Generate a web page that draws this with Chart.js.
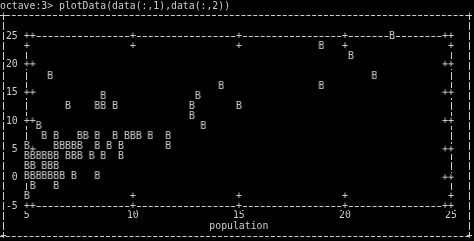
<!DOCTYPE html>
<html>
<head>
<meta charset="utf-8">
<script src="https://cdn.jsdelivr.net/npm/chart.js@4"></script>
<style>
  html, body { margin: 0; padding: 0; background: #000; }
  #wrap { width: 474px; height: 241px; position: relative; }
</style>
</head>
<body>
<div id="wrap"><canvas id="c" width="474" height="241"></canvas></div>
<script>
// ---- data ----
const xTicks = [5, 10, 15, 20, 25];
const yTicks = [-5, 0, 5, 10, 15, 20, 25];
const xLabel = 'population';
const promptLine = 'octave:3> plotData(data(:,1),data(:,2))';

const population = [
  22.22,
  18.89,
  20.28,
  6.11, 21.39,
  14.17, 18.89,
  8.61, 13.06,
  6.94, 8.33, 8.61, 9.17, 12.78, 15.0,
  12.78,
  5.56, 13.33,
  5.83, 6.39, 7.5, 7.78, 8.33, 9.17, 9.72, 10.0, 10.28, 10.83, 11.67,
  5.0, 6.39, 6.67, 6.94, 7.22, 7.5, 8.33, 8.89, 9.44, 11.67,
  5.0, 5.28, 5.56, 5.83, 6.11, 6.39, 6.94, 7.22, 7.5, 8.06, 8.61, 9.44,
  5.0, 5.28, 5.83, 6.11, 6.39,
  5.0, 5.28, 5.56, 5.83, 6.11, 6.39, 6.67, 7.22, 8.33,
  5.28, 6.39,
  5.0
];
const profit = [
  25.0,
  23.24,
  21.47,
  17.94, 17.94,
  16.18, 16.18,
  14.41, 14.41,
  12.65, 12.65, 12.65, 12.65, 12.65, 12.65,
  10.88,
  9.12, 9.12,
  7.35, 7.35, 7.35, 7.35, 7.35, 7.35, 7.35, 7.35, 7.35, 7.35, 7.35,
  5.59, 5.59, 5.59, 5.59, 5.59, 5.59, 5.59, 5.59, 5.59, 5.59,
  3.82, 3.82, 3.82, 3.82, 3.82, 3.82, 3.82, 3.82, 3.82, 3.82, 3.82, 3.82,
  2.06, 2.06, 2.06, 2.06, 2.06,
  0.29, 0.29, 0.29, 0.29, 0.29, 0.29, 0.29, 0.29, 0.29,
  -1.47, -1.47,
  -3.24
];

// ---- styling ----
const FG = '#cdcdcd';
const FONT = '"DejaVu Sans Mono", monospace';
const FSIZE = 9.8;

function glyph(ch) {
  const cv = document.createElement('canvas');
  cv.width = 6; cv.height = 10;
  const g = cv.getContext('2d');
  g.fillStyle = '#000';
  g.fillRect(0, 0, 6, 10);
  g.fillStyle = FG;
  g.font = '10px ' + FONT;
  g.textAlign = 'center';
  g.textBaseline = 'middle';
  g.fillText(ch, 3, 5.5);
  return cv;
}

const xMin = xTicks[0], xMax = xTicks[xTicks.length - 1];
const yMin = yTicks[0], yMax = yTicks[yTicks.length - 1];
// one text cell expressed in data units
const colU = (xMax - xMin) / 72;
const rowU = (yMax - yMin) / 17;

// tick marks ("+" characters) placed at the tick values
const tickMarks = [];
xTicks.forEach(v => {
  tickMarks.push({x: v, y: yMax}, {x: v, y: yMax - rowU}, {x: v, y: yMin}, {x: v, y: yMin + rowU});
});
yTicks.forEach(v => {
  tickMarks.push({x: xMin, y: v}, {x: xMin + colU, y: v}, {x: xMax, y: v}, {x: xMax - colU, y: v});
});

const points = population.map((p, i) => ({x: p, y: profit[i]}));

const terminalFrame = {
  id: 'terminalFrame',
  beforeDraw(chart) {
    const ctx = chart.ctx;
    ctx.save();
    ctx.fillStyle = '#000';
    ctx.fillRect(0, 0, chart.width, chart.height);
    ctx.fillStyle = FG;
    ctx.font = FSIZE + 'px ' + FONT;
    ctx.textBaseline = 'alphabetic';
    ctx.textAlign = 'left';
    ctx.fillText(promptLine, 0, 9);
    // outer dumb-terminal frame
    ctx.strokeStyle = FG;
    ctx.lineWidth = 1;
    ctx.setLineDash([4, 1.89]);
    ctx.beginPath();
    ctx.moveTo(0, 15.5); ctx.lineTo(470, 15.5);
    ctx.moveTo(0, 236.5); ctx.lineTo(470, 236.5);
    ctx.stroke();
    ctx.setLineDash([8, 2]);
    ctx.lineDashOffset = 4;
    ctx.beginPath();
    ctx.moveTo(3.5, 16); ctx.lineTo(3.5, 236);
    ctx.moveTo(469.5, 16); ctx.lineTo(469.5, 236);
    ctx.stroke();
    ctx.setLineDash([]);
    ctx.textAlign = 'center';
    ctx.textBaseline = 'middle';
    ctx.fillText('+', 3.5, 16);
    ctx.fillText('+', 469.5, 16);
    ctx.fillText('+', 3.5, 236.5);
    ctx.fillText('+', 469.5, 236.5);
    ctx.restore();
  }
};

Chart.defaults.font.family = FONT;
Chart.defaults.font.size = FSIZE;
Chart.defaults.color = FG;

new Chart(document.getElementById('c'), {
  type: 'scatter',
  data: {
    datasets: [
      {
        label: 'data',
        data: points,
        pointStyle: glyph('B'),
        pointRadius: 3,
        pointHoverRadius: 3,
        showLine: false,
        clip: false,
        order: 0
      },
      {
        label: 'ticks',
        data: tickMarks,
        pointStyle: glyph('+'),
        pointRadius: 3,
        pointHoverRadius: 3,
        showLine: false,
        clip: false,
        order: 1
      }
    ]
  },
  options: {
    responsive: false,
    animation: false,
    events: [],
    layout: { padding: { top: 36, right: 23, left: 0, bottom: 0 } },
    plugins: { legend: { display: false }, tooltip: { enabled: false } },
    scales: {
      x: {
        type: 'linear',
        min: xMin, max: xMax,
        afterBuildTicks: s => { s.ticks = xTicks.map(v => ({value: v})); },
        afterFit: s => { s.height = 35; },
        ticks: { padding: 4, color: FG, maxRotation: 0, autoSkip: false },
        border: { display: false, dash: [8, 2], dashOffset: 4 },
        grid: {
          drawTicks: false,
          lineWidth: 1,
          color: c => (c.tick && (c.tick.value === xMin || c.tick.value === xMax)) ? FG : 'rgba(0,0,0,0)'
        },
        title: { display: true, text: xLabel, color: FG, padding: { top: 0, bottom: 9 } }
      },
      y: {
        type: 'linear',
        min: yMin, max: yMax,
        afterBuildTicks: s => { s.ticks = yTicks.map(v => ({value: v})); },
        afterFit: s => { s.width = 26.7; },
        ticks: { padding: 9, color: FG, autoSkip: false },
        border: { display: false, dash: [4, 1.89], dashOffset: 2 },
        grid: {
          drawTicks: false,
          lineWidth: 1,
          color: c => (c.tick && (c.tick.value === yMin || c.tick.value === yMax)) ? FG : 'rgba(0,0,0,0)'
        }
      }
    }
  },
  plugins: [terminalFrame]
});
</script>
</body>
</html>
